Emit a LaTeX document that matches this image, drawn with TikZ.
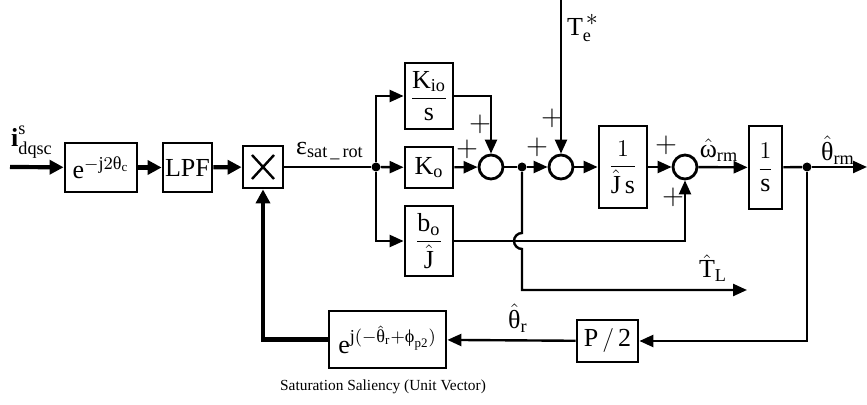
\documentclass[tikz,border=0pt]{standalone}
\usepackage{amsmath}
\usepackage{fontspec}
\setmainfont{Liberation Serif}
\usetikzlibrary{arrows.meta}

\newcommand{\gr}[1]{\textrm{#1}}

\begin{document}
\begin{tikzpicture}[x=0.5pt, y=0.5pt,
    every node/.style={font=\fontsize{13}{15}\selectfont},
    blk/.style={draw, line width=1.4pt, inner sep=1pt},
    sumc/.style={draw, circle, line width=1.4pt, minimum size=12pt, inner sep=0pt},
    sig/.style={line width=1.2pt, -{Triangle[length=7pt, width=6pt]}},
    fat/.style={line width=2.1pt, -{Triangle[length=7pt, width=7pt]}},
    dot/.style={circle, fill, inner sep=0pt, minimum size=4.5pt},
    pl/.style={font=\fontsize{15}{16}\selectfont}]
    \useasboundingbox (0,0) rectangle (867,-405);

    % ---------- demodulation chain ----------
    \coordinate (in) at (10,-167);
    \node[blk, minimum width=36pt, minimum height=24.5pt] (rot) at (101,-167.5)
      {$\mathrm{e}^{-\mathrm{j}2\gr{θ}_{\mathrm{c}}}$};
    \node[blk, minimum width=24.5pt, minimum height=24.5pt] (lpf) at (187.5,-167.5) {LPF};
    \node[blk, minimum width=20pt, minimum height=21pt,
      path picture={
        \draw[line width=1.2pt] ([shift={(4.5pt,4.5pt)}]path picture bounding box.south west)
          -- ([shift={(-4.5pt,-4.5pt)}]path picture bounding box.north east);
        \draw[line width=1.2pt] ([shift={(4.5pt,-4.5pt)}]path picture bounding box.north west)
          -- ([shift={(-4.5pt,4.5pt)}]path picture bounding box.south east);
      }] (mul) at (263,-167) {};
    \node at (32,-142) {$\mathbf{i}^{\raisebox{2pt}{$\scriptstyle\mathrm{s}$}}_{\mathrm{dqsc}}$};

    \draw[fat] (in) -- (rot);
    \draw[fat] (rot) -- (lpf);
    \draw[fat] (lpf) -- (mul);

    % ---------- observer controller ----------
    \node[dot] (br1) at (376,-167) {};
    \node[blk, minimum width=24pt, minimum height=33pt] (kio) at (429,-96)
      {$\dfrac{\mathrm{K}_{\mathrm{io}}}{\mathrm{s}}$};
    \node[blk, minimum width=24pt, minimum height=20.5pt] (ko) at (429,-167.5)
      {$\mathrm{K}_{\mathrm{o}}$};
    \node[blk, minimum width=24pt, minimum height=35pt] (bo) at (429,-241)
      {$\dfrac{\mathrm{b}_{\mathrm{o}}}{\hat{\mathrm{J}}}$};
    \node[sumc] (s1) at (491,-167) {};
    \node[dot] (br2) at (522,-167) {};
    \node at (330,-151) {$\gr{ε}_{\mathrm{sat\,\_\,rot}}$};

    \draw[line width=1.2pt] (mul) -- (br1);
    \draw[sig] (br1) |- (kio);
    \draw[sig] (br1) -- (ko);
    \draw[sig] (br1) |- (bo);
    \draw[sig] (kio.east) -| (s1.north);
    \draw[sig] (ko) -- (s1);
    \draw[line width=1.2pt] (s1) -- (br2);
    \node[pl] at (480,-124) {$+$};
    \node[pl] at (467,-149) {$+$};

    % ---------- mechanical model ----------
    \coordinate (tin) at (561,0);
    \node[sumc] (s2) at (561,-167) {};
    \node[blk, minimum width=24pt, minimum height=41pt] (jinv) at (623,-167)
      {$\dfrac{1}{\hat{\mathrm{J}}\,\mathrm{s}}$};
    \node[sumc] (s3) at (685,-167) {};
    \node[blk, minimum width=16.5pt, minimum height=41.5pt] (int) at (765.5,-167.5)
      {$\dfrac{1}{\mathrm{s}}$};
    \node[dot] (br3) at (807,-167) {};
    \coordinate (out) at (867,-167);
    \coordinate (tl) at (747,-290);

    \draw[sig] (br2) -- (s2);
    \draw[sig] (tin) -- (s2);
    \draw[sig] (s2) -- (jinv);
    \draw[sig] (jinv) -- (s3);
    \draw[sig] (bo.east) -| (s3.south);
    \draw[sig] (s3) -- (int);
    \draw[line width=1.2pt] (int) -- (br3);
    \draw[sig] (br3) -- (out);

    % load torque, hopping over the b_o line
    \coordinate (jmp) at (br2 |- bo.east);
    \draw[sig] (br2) -- ([yshift=4pt]jmp) arc[start angle=90, end angle=270, radius=4pt]
      -- (br2 |- tl) -- (tl);

    \node at (583,-28) {$\mathrm{T}_{\mathrm{e}}^{\,\raisebox{1pt}{$\ast$}}$};
    \node[pl] at (552,-118) {$+$};
    \node[pl] at (537,-147) {$+$};
    \node[pl] at (666,-145) {$+$};
    \node[pl] at (673,-197) {$+$};
    \node at (719,-150) {$\hat{\gr{ω}}_{\mathrm{rm}}$};
    \node at (838,-150) {$\hat{\gr{θ}}_{\mathrm{rm}}$};
    \node at (713,-268) {$\hat{\mathrm{T}}_{\mathrm{L}}$};

    % ---------- position feedback ----------
    \node[blk, minimum width=30.5pt, minimum height=21pt] (p2) at (607.5,-341) {P$\,/\,$2};
    \node[blk, minimum width=58.5pt, minimum height=28.5pt] (sal) at (387.5,-339.5)
      {$\mathrm{e}^{\mathrm{j}(-\hat{\gr{θ}}_{\mathrm{r}}+\gr{ϕ}_{\mathrm{p2}})}$};
    \node[font=\fontsize{7.7}{9}\selectfont] at (383,-387) {Saturation Saliency (Unit Vector)};
    \node at (518,-318) {$\hat{\gr{θ}}_{\mathrm{r}}$};

    \draw[sig] (br3) |- (p2);
    \draw[sig] (p2) -- (sal);
    \draw[fat] (sal.west) -| (mul.south);
  \end{tikzpicture}
\end{document}
